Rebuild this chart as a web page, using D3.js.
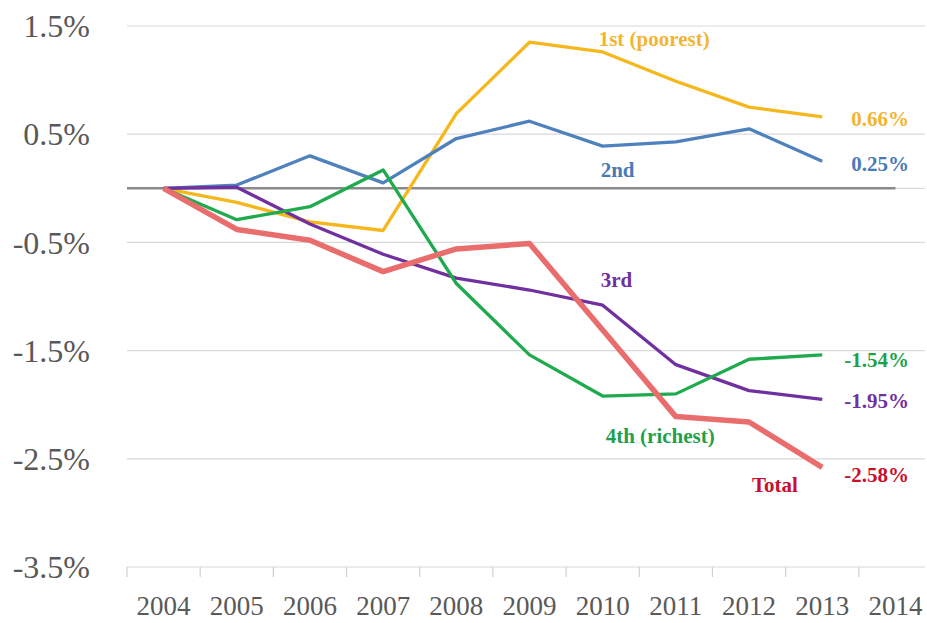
<!DOCTYPE html>
<html>
<head>
<meta charset="utf-8">
<script src="https://cdn.jsdelivr.net/npm/d3@7"></script>
<style>
  body { margin: 0; background: #fff; }
  .tick-y { font-family: "Liberation Serif", serif; font-size: 32px; fill: #595959; }
  .tick-x { font-family: "Liberation Serif", serif; font-size: 27px; fill: #595959; }
  .lbl { font-family: "Liberation Serif", serif; font-size: 21px; font-weight: bold; }
</style>
</head>
<body>
<svg id="chart"></svg>
<script>
// Years on the category axis (2014 has no data)
const years = ['2004', '2005', '2006', '2007', '2008', '2009', '2010', '2011', '2012', '2013', '2014'];
const yTicks = [1.5, 0.5, -0.5, -1.5, -2.5, -3.5];

// Cumulative change, % (2004..2013)
const first  = [0, -0.13, -0.31, -0.39, 0.69, 1.35, 1.26, 0.99, 0.75, 0.66];
const second = [0, 0.03, 0.30, 0.05, 0.46, 0.62, 0.39, 0.43, 0.55, 0.25];
const third  = [0, 0.01, -0.33, -0.61, -0.83, -0.94, -1.08, -1.63, -1.87, -1.95];
const fourth = [0, -0.29, -0.17, 0.17, -0.88, -1.54, -1.92, -1.90, -1.58, -1.54];
const total  = [0, -0.38, -0.48, -0.77, -0.56, -0.51, -1.31, -2.11, -2.16, -2.58];

const series = [
  { name: '1st (poorest)', values: first,  color: '#f5b71c', text: '#f2b531', width: 3.3, end: '0.66%',  lx: '2010', ldx: -4, lv: 1.315, ev: 0.66,  edy: 9 },
  { name: '2nd',           values: second, color: '#4f81bd', text: '#4a7ab5', width: 3.3, end: '0.25%',  lx: '2010', ldx: -2, lv: 0.10,  ev: 0.25,  edy: 10 },
  { name: '3rd',           values: third,  color: '#7030a0', text: '#7030a0', width: 3.3, end: '-1.95%', lx: '2010', ldx: -2, lv: -0.915, ev: -1.95, edy: 9 },
  { name: '4th (richest)', values: fourth, color: '#1faa4e', text: '#1fa14b', width: 3.3, end: '-1.54%', lx: '2010', ldx: 3,  lv: -2.35, ev: -1.54, edy: 12 },
  { name: 'Total',         values: total,  color: '#e96d6d', text: '#c8102e', width: 5.5, end: '-2.58%', lx: '2012', ldx: 3,  lv: -2.81, ev: -2.58, edy: 15 }
];

const W = 927, H = 623;
const svg = d3.select('#chart').attr('width', W).attr('height', H);

const x = d3.scaleBand().domain(years).range([127, 932]);
const xc = (yr) => x(yr) + x.bandwidth() / 2;
const y = d3.scaleLinear().domain([-3.5, 1.5]).range([567, 26]);

// Gridlines
svg.append('g').selectAll('line').data(yTicks).join('line')
  .attr('x1', 127).attr('x2', 925)
  .attr('y1', (d) => y(d)).attr('y2', (d) => y(d))
  .attr('stroke', '#d9d9d9').attr('stroke-width', 1.2);

// Tick marks between categories
svg.append('g').selectAll('line').data(years).join('line')
  .attr('x1', (d) => x(d)).attr('x2', (d) => x(d))
  .attr('y1', y(-3.5)).attr('y2', y(-3.5) + 10)
  .attr('stroke', '#d0d0d0').attr('stroke-width', 1.2);

// Zero line
svg.append('line').attr('x1', 127).attr('x2', 925).attr('y1', y(0)).attr('y2', y(0))
  .attr('stroke', '#d9d9d9').attr('stroke-width', 1.2);
svg.append('line').attr('x1', 127).attr('x2', xc('2014')).attr('y1', y(0)).attr('y2', y(0))
  .attr('stroke', '#8a8a8a').attr('stroke-width', 2.5);

// Y tick labels
svg.append('g').selectAll('text').data(yTicks).join('text')
  .attr('class', 'tick-y').attr('x', 90).attr('y', (d) => y(d)).attr('dy', '0.35em')
  .attr('text-anchor', 'end').text((d) => d.toFixed(1) + '%');

// X tick labels
svg.append('g').selectAll('text').data(years).join('text')
  .attr('class', 'tick-x').attr('x', (d) => xc(d)).attr('y', 615)
  .attr('text-anchor', 'middle').text((d) => d);

// Lines
const line = d3.line().x((d, i) => xc(years[i])).y((d) => y(d));
svg.append('g').selectAll('path').data(series).join('path')
  .attr('d', (s) => line(s.values))
  .attr('fill', 'none').attr('stroke', (s) => s.color)
  .attr('stroke-width', (s) => s.width).attr('stroke-linejoin', 'round');

// Series name labels
svg.append('g').selectAll('text').data(series).join('text')
  .attr('class', 'lbl').attr('fill', (s) => s.text)
  .attr('x', (s) => xc(s.lx) + s.ldx).attr('y', (s) => y(s.lv))
  .text((s) => s.name);

// End value labels
svg.append('g').selectAll('text').data(series).join('text')
  .attr('class', 'lbl').attr('fill', (s) => s.text).attr('text-anchor', 'end')
  .attr('x', 909).attr('y', (s) => y(s.ev) + s.edy)
  .text((s) => s.end);
</script>
</body>
</html>
